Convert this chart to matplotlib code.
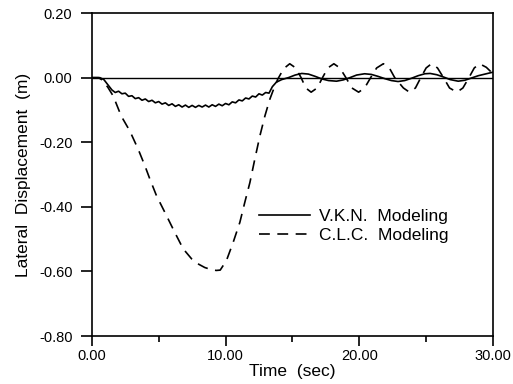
import numpy as np
import matplotlib
matplotlib.use('Agg')
import matplotlib.pyplot as plt
from matplotlib.ticker import FixedLocator

plt.rcParams['font.family'] = ['Liberation Sans', 'DejaVu Sans']

# V.K.N. modeling (solid)
t_vkn = [0.0, 0.6, 0.9, 1.2,
         1.50, 1.75, 2.00, 2.25, 2.50, 2.75, 3.00, 3.25, 3.50, 3.75,
         4.00, 4.25, 4.50, 4.75, 5.00, 5.25, 5.50, 5.75, 6.00, 6.25,
         6.50, 6.75, 7.00, 7.25, 7.50, 7.75, 8.00, 8.25, 8.50, 8.75,
         9.00, 9.25, 9.50, 9.75, 10.00, 10.25, 10.50, 10.75, 11.00, 11.25,
         11.50, 11.75, 12.00, 12.25, 12.50, 12.75, 13.00, 13.25, 13.5, 13.8,
         14.2, 14.7, 15.2, 15.7, 16.2, 16.7, 17.2, 17.7, 18.3, 18.8,
         19.3, 19.8, 20.4, 20.9, 21.4, 21.9, 22.4, 22.9, 23.4, 23.9,
         24.4, 24.9, 25.3, 25.8, 26.3, 26.8, 27.4, 27.9, 28.4, 28.9,
         29.4, 30.0]
y_vkn = [0.0, 0.0, -0.006, -0.022,
         -0.038, -0.046, -0.042, -0.050, -0.048, -0.058, -0.056, -0.065, -0.062, -0.070,
         -0.066, -0.074, -0.070, -0.078, -0.074, -0.082, -0.078, -0.086, -0.081, -0.089,
         -0.084, -0.091, -0.085, -0.092, -0.086, -0.092, -0.086, -0.091, -0.085, -0.091,
         -0.084, -0.089, -0.082, -0.087, -0.080, -0.084, -0.075, -0.078, -0.069, -0.072,
         -0.063, -0.066, -0.057, -0.060, -0.050, -0.054, -0.046, -0.048, -0.028, -0.014,
         -0.006, 0.0, 0.008, 0.013, 0.011, 0.004, -0.004, -0.009, -0.011, -0.007,
         0.0, 0.008, 0.012, 0.010, 0.004, -0.003, -0.009, -0.012, -0.009, -0.002,
         0.006, 0.012, 0.013, 0.009, 0.002, -0.006, -0.011, -0.008, -0.001, 0.006,
         0.011, 0.017]

# C.L.C. modeling (dashed)
t_clc = [0.0, 0.5, 0.8, 1.2, 1.6, 2.2, 2.84, 3.47, 3.97, 4.34, 4.84, 5.46,
         6.2, 6.83, 7.46, 8.0, 8.45, 8.9, 9.3, 9.6, 10.07, 10.57, 11.07,
         11.44, 11.82, 12.19, 12.57, 12.94, 13.31, 13.6, 13.9, 14.35, 14.8,
         15.25, 15.65, 16.0, 16.4, 16.85, 17.25, 17.65, 18.1, 18.55, 19.0,
         19.45, 19.95, 20.4, 20.85, 21.3, 21.8, 22.25, 22.65, 23.3, 23.75,
         24.2, 24.6, 25.0, 25.4, 25.85, 26.3, 26.75, 27.3, 27.75, 28.2,
         28.6, 29.0, 29.5, 30.0]
y_clc = [0.0, 0.0, -0.008, -0.030, -0.057, -0.119, -0.165, -0.222, -0.273, -0.314, -0.366, -0.417,
         -0.479, -0.530, -0.561, -0.578, -0.588, -0.594, -0.597, -0.596, -0.566, -0.510, -0.448,
         -0.386, -0.325, -0.252, -0.180, -0.119, -0.067, -0.035, -0.005, 0.028, 0.043,
         0.030, 0.0, -0.032, -0.045, -0.032, 0.0, 0.030, 0.043, 0.030, 0.0,
         -0.032, -0.045, -0.032, 0.0, 0.030, 0.043, 0.030, 0.0, -0.032, -0.045,
         -0.032, 0.0, 0.030, 0.043, 0.030, 0.0, -0.032, -0.045, -0.032, 0.0,
         0.030, 0.043, 0.032, 0.012]

x_ticks = [0, 10, 20, 30]
x_labels = ['0.00', '10.00', '20.00', '30.00']
y_ticks = [-0.8, -0.6, -0.4, -0.2, 0.0, 0.2]
y_labels = ['-0.80', '-0.60', '-0.40', '-0.20', '0.00', '0.20']

fig = plt.figure(figsize=(5.13, 3.84), dpi=100)
ax = fig.add_axes([0.179, 0.125, 0.782, 0.841])

ax.axhline(0, color='black', lw=1.0)
ax.plot(t_vkn, y_vkn, color='black', lw=1.2, label='V.K.N.  Modeling')
ax.plot(t_clc, y_clc, color='black', lw=1.2, dashes=(6.5, 4.5), label='C.L.C.  Modeling')

ax.set_xlim(0, 30)
ax.set_ylim(-0.8, 0.2)
ax.set_xticks(x_ticks)
ax.set_xticklabels(x_labels)
ax.xaxis.set_minor_locator(FixedLocator([5, 15, 25]))
ax.set_yticks(y_ticks)
ax.set_yticklabels(y_labels)
ax.tick_params(axis='both', which='major', labelsize=10.5, width=1.2, direction='out')
ax.tick_params(axis='x', which='major', length=7, pad=2)
ax.tick_params(axis='y', which='major', length=8, pad=6)
ax.tick_params(axis='x', which='minor', length=4, width=1.2, direction='out')

for s in ax.spines.values():
    s.set_linewidth(1.2)

ax.set_xlabel('Time  (sec)', fontsize=12.5, labelpad=1)
ax.set_ylabel('Lateral  Displacement  (m)', fontsize=12.5, labelpad=6)

ax.legend(loc='upper left', bbox_to_anchor=(0.40, 0.415), frameon=False,
          fontsize=12.5, handlelength=2.9, handletextpad=0.55, labelspacing=0.2,
          borderaxespad=0)

fig.savefig('out.png', dpi=100)
